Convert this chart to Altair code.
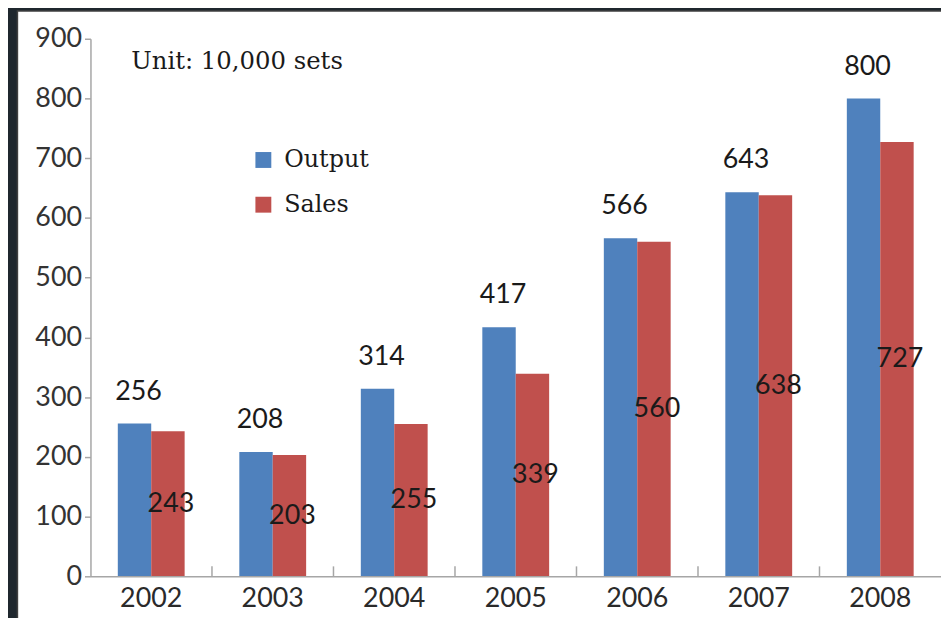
import altair as alt
import pandas as pd

years = ["2002", "2003", "2004", "2005", "2006", "2007", "2008"]
output_vals = [256, 208, 314, 417, 566, 643, 800]
sales_vals = [243, 203, 255, 339, 560, 638, 727]
series_names = ["Output", "Sales"]
series_colors = ["#4F81BD", "#C0504D"]
y_ticks = [0, 100, 200, 300, 400, 500, 600, 700, 800, 900]
unit_note = "Unit: 10,000 sets"

rows = []
for i, yr in enumerate(years):
    rows.append({"year": yr, "series": "Output", "value": output_vals[i]})
    rows.append({"year": yr, "series": "Sales", "value": sales_vals[i]})
df = pd.DataFrame(rows)
tick_df = pd.DataFrame({"year": years[1:]})

W, H = 856, 541
STEP = W / 7.0
SANS = "Lato"
SERIF = "DejaVu Serif"

x_enc = alt.X("year:N", sort=years,
              scale=alt.Scale(paddingInner=0.45, paddingOuter=0.225),
              axis=alt.Axis(title=None, labelAngle=0, ticks=False, labelFont=SANS,
                            labelFontSize=27, labelColor="#2a2a2a", labelPadding=9,
                            domainColor="#A6A6A6", domainWidth=1.5, zindex=2))
y_enc = alt.Y("value:Q", scale=alt.Scale(domain=[0, 900], nice=False),
              axis=alt.Axis(title=None, values=y_ticks, grid=False, labelFont=SANS,
                            labelFontSize=27, labelColor="#333333", tickSize=6,
                            tickColor="#A6A6A6", tickWidth=1.5, labelPadding=3,
                            domainColor="#A6A6A6", domainWidth=1.5, zindex=2))

panel = alt.Chart(pd.DataFrame({"a": [0]})).mark_rect(
    fill="white", stroke="#404040", strokeWidth=1.5
).encode(x=alt.value(-73.5), x2=alt.value(W + 30), y=alt.value(-28), y2=alt.value(H + 60))

bars = alt.Chart(df).mark_bar().encode(
    x=x_enc,
    y=y_enc,
    xOffset=alt.XOffset("series:N", sort=series_names, scale=alt.Scale(paddingInner=0, paddingOuter=0)),
    color=alt.Color("series:N", sort=series_names,
                    scale=alt.Scale(domain=series_names, range=series_colors),
                    legend=alt.Legend(title=None, orient="none", legendX=162, legendY=110,
                                      symbolType="square", symbolSize=256,
                                      symbolStrokeWidth=0, labelFont=SERIF,
                                      labelFontSize=24, labelColor="#1a1a1a",
                                      labelOffset=9, rowPadding=21, padding=0, zindex=3)),
)

ticks = alt.Chart(tick_df).mark_rule(color="#A6A6A6", strokeWidth=1.5, xOffset=-0.225 * STEP).encode(
    x=alt.X("year:N", sort=years, bandPosition=0),
    y=alt.value(H),
    y2=alt.value(H - 10),
)

out_labels = alt.Chart(df).transform_filter(alt.datum.series == "Output").mark_text(
    font=SANS, fontSize=27, color="#1a1a1a", baseline="middle", dy=-32, dx=4
).encode(
    x=alt.X("year:N", sort=years),
    xOffset=alt.XOffset("series:N", sort=series_names),
    y=alt.Y("value:Q"),
    text=alt.Text("value:Q"),
)

sales_labels = alt.Chart(df).transform_filter(alt.datum.series == "Sales").transform_calculate(
    mid="datum.value / 2"
).mark_text(
    font=SANS, fontSize=27, color="#1a1a1a", baseline="middle", dx=3
).encode(
    x=alt.X("year:N", sort=years),
    xOffset=alt.XOffset("series:N", sort=series_names),
    y=alt.Y("mid:Q"),
    text=alt.Text("value:Q"),
)

note = alt.Chart(pd.DataFrame({"t": [unit_note]})).mark_text(
    font=SERIF, fontSize=24.5, color="#1a1a1a", align="left", baseline="middle"
).encode(x=alt.value(41), y=alt.value(23), text="t:N")

chart = alt.layer(panel, bars, ticks, out_labels, sales_labels, note).properties(
    width=W, height=H,
    background="#1f272e",
    padding={"left": 83, "top": 29, "right": 0, "bottom": 40},
    autosize=alt.AutoSizeParams(type="none"),
).configure_view(strokeOpacity=0)

chart.save("out.html", embed_options={"renderer": "svg", "actions": False})
